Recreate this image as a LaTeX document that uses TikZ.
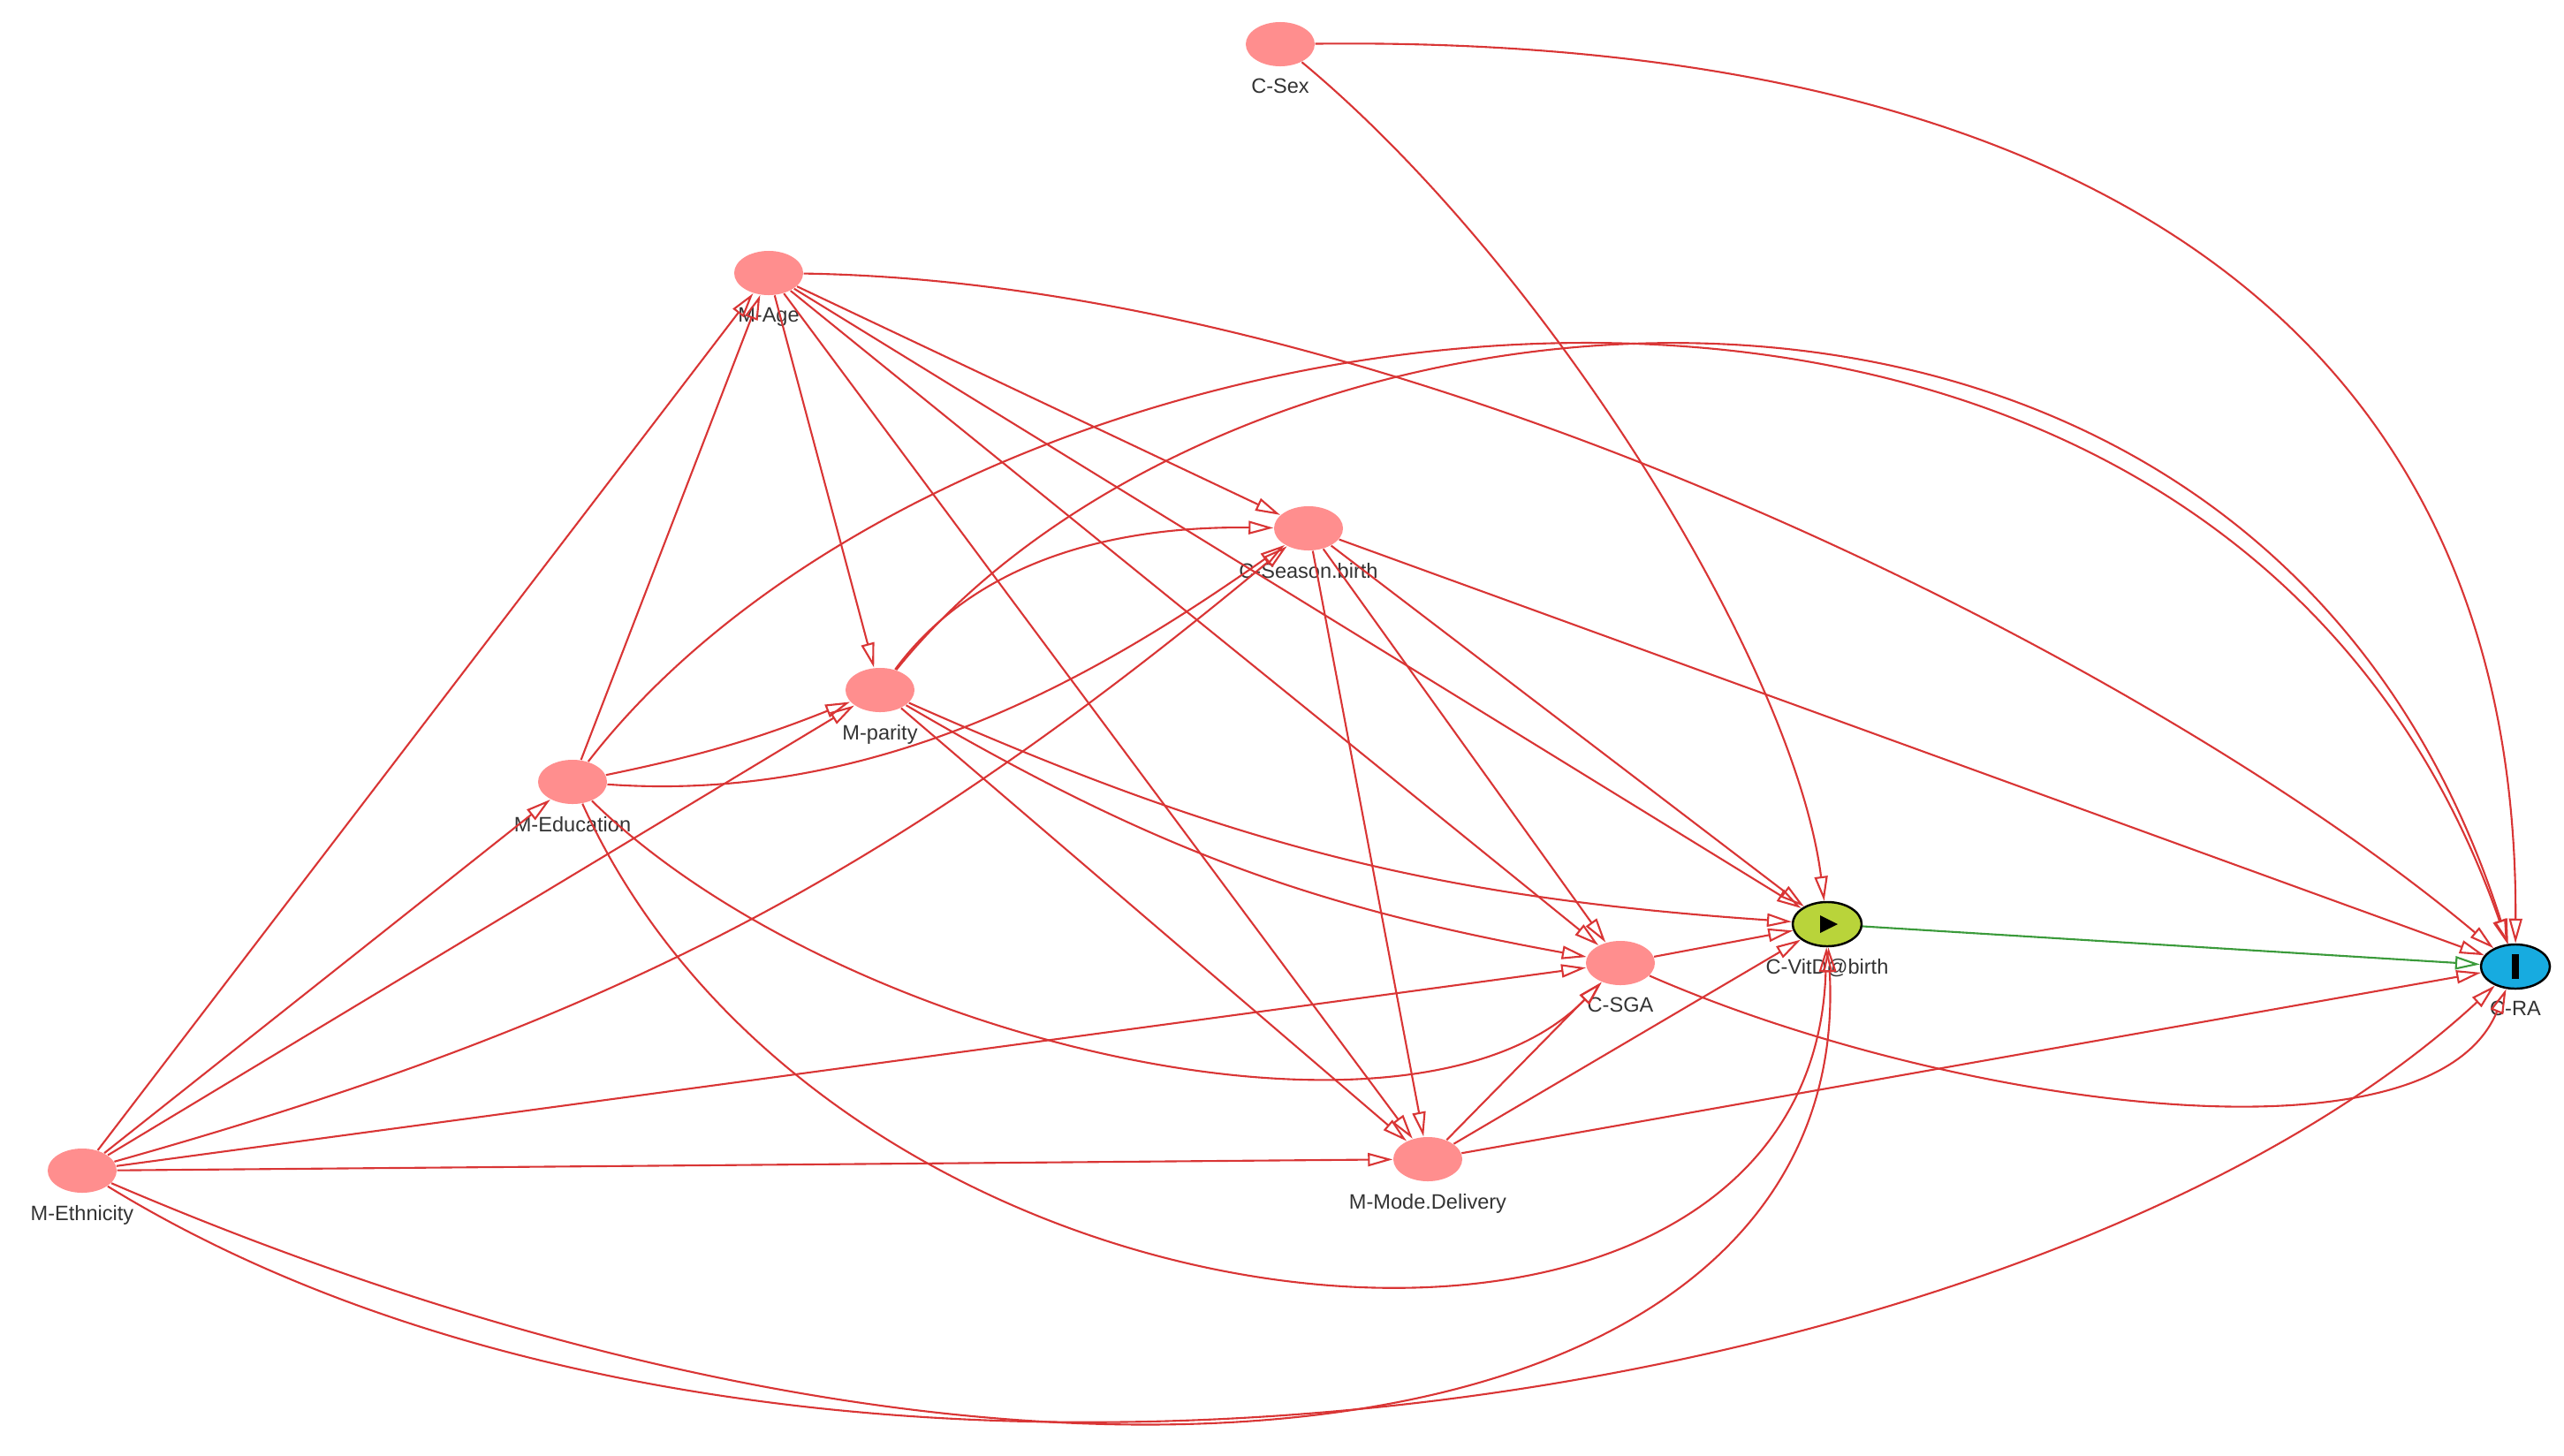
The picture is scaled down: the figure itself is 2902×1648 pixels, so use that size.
\documentclass[tikz,border=0pt]{standalone}
\usepackage{fontspec}
\setmainfont{Liberation Sans}
\usetikzlibrary{arrows.meta, shapes.geometric}
\definecolor{dagpink}{HTML}{FF8E8E}
\definecolor{dagred}{HTML}{D93535}
\definecolor{dagexp}{HTML}{B9D43A}
\definecolor{dagout}{HTML}{17ABE0}
\definecolor{daggreen}{HTML}{3A9A3A}
\definecolor{dagtext}{HTML}{333333}

\begin{document}
\begin{tikzpicture}[x=0.01cm, y=-0.01cm,
    var/.style={ellipse, fill=dagpink, minimum width=0.78cm, minimum height=0.5cm, inner sep=0pt},
    expo/.style={var, fill=dagexp, draw=black, line width=0.7pt},
    outc/.style={var, fill=dagout, draw=black, line width=0.7pt},
    lbl/.style={font=\fontsize{6.7}{8}\selectfont, text=dagtext, inner sep=1pt},
    every label/.style={label distance=0.9mm},
    arr/.style={draw=dagred, line width=0.6pt, -{Triangle[open, length=2.8mm, width=1.5mm]}},
]
\useasboundingbox (0,0) rectangle (2902,1648);

% variables
\node[var]  (sex)    at (1449,50)   [label={[lbl]below:C-Sex}] {};
\node[var]  (age)    at (870,309)   [label={[lbl]below:M-Age}] {};
\node[var]  (season) at (1481,598)  [label={[lbl]below:C-Season.birth}] {};
\node[var]  (parity) at (996,781)   [label={[lbl]below:M-parity}] {};
\node[var]  (edu)    at (648,885)   [label={[lbl]below:M-Education}] {};
\node[expo] (vitd)   at (2068,1046) [label={[lbl]below:C-VitD@birth}] {};
\node[var]  (sga)    at (1834,1090) [label={[lbl]below:C-SGA}] {};
\node[outc] (ra)     at (2847,1094) [label={[lbl]below:C-RA}] {};
\node[var]  (eth)    at (93,1325)   [label={[lbl]below:M-Ethnicity}] {};
\node[var]  (mode)   at (1616,1312) [label={[lbl]below:M-Mode.Delivery}] {};

% exposure / outcome marks
\fill[black] ([shift={(-8,-10)}]vitd.center) -- ([shift={(-8,10)}]vitd.center)
    -- ([shift={(12,0)}]vitd.center) -- cycle;
\fill[black] ([shift={(-4,-14)}]ra.center) rectangle ([shift={(4,14)}]ra.center);

% edges
\draw[arr] (sex) .. controls (2300,40) and (2850,330) .. (ra);
\draw[arr] (sex) .. controls (1750,300) and (2030,750) .. (vitd);
\draw[arr] (age) .. controls (1600,320) and (2450,760) .. (ra);
\draw[arr] (age) -- (parity);
\draw[arr] (age) -- (season);
\draw[arr] (age) -- (sga);
\draw[arr] (age) -- (vitd);
\draw[arr] (age) -- (mode);
\draw[arr] (eth) -- (age);
\draw[arr] (eth) -- (edu);
\draw[arr] (eth) -- (parity);
\draw[arr] (eth) to[bend right=12] (season);
\draw[arr] (eth) -- (sga);
\draw[arr] (eth) -- (mode);
\draw[arr] (eth) .. controls (1200,1800) and (2100,1650) .. (vitd);
\draw[arr] (eth) .. controls (900,1820) and (2300,1600) .. (ra);
\draw[arr] (edu) -- (age);
\draw[arr] (edu) to[bend right=5] (parity);
\draw[arr] (edu) .. controls (1000,910) and (1250,760) .. (season);
\draw[arr] (edu) .. controls (1100,300) and (2500,100) .. (ra);
\draw[arr] (edu) .. controls (950,1180) and (1600,1330) .. (sga);
\draw[arr] (edu) .. controls (950,1550) and (2050,1650) .. (vitd);
\draw[arr] (parity) .. controls (1100,640) and (1250,595) .. (season);
\draw[arr] (parity) .. controls (1400,280) and (2550,160) .. (ra);
\draw[arr] (parity) to[bend right=10] (sga);
\draw[arr] (parity) to[bend right=10] (vitd);
\draw[arr] (parity) -- (mode);
\draw[arr] (season) -- (ra);
\draw[arr] (season) -- (vitd);
\draw[arr] (season) -- (sga);
\draw[arr] (season) -- (mode);
\draw[arr] (sga) -- (vitd);
\draw[arr] (sga) .. controls (2200,1250) and (2750,1330) .. (ra);
\draw[arr] (mode) -- (sga);
\draw[arr] (mode) -- (vitd);
\draw[arr] (mode) -- (ra);
\draw[arr, draw=daggreen] (vitd) -- (ra);
\end{tikzpicture}
\end{document}
